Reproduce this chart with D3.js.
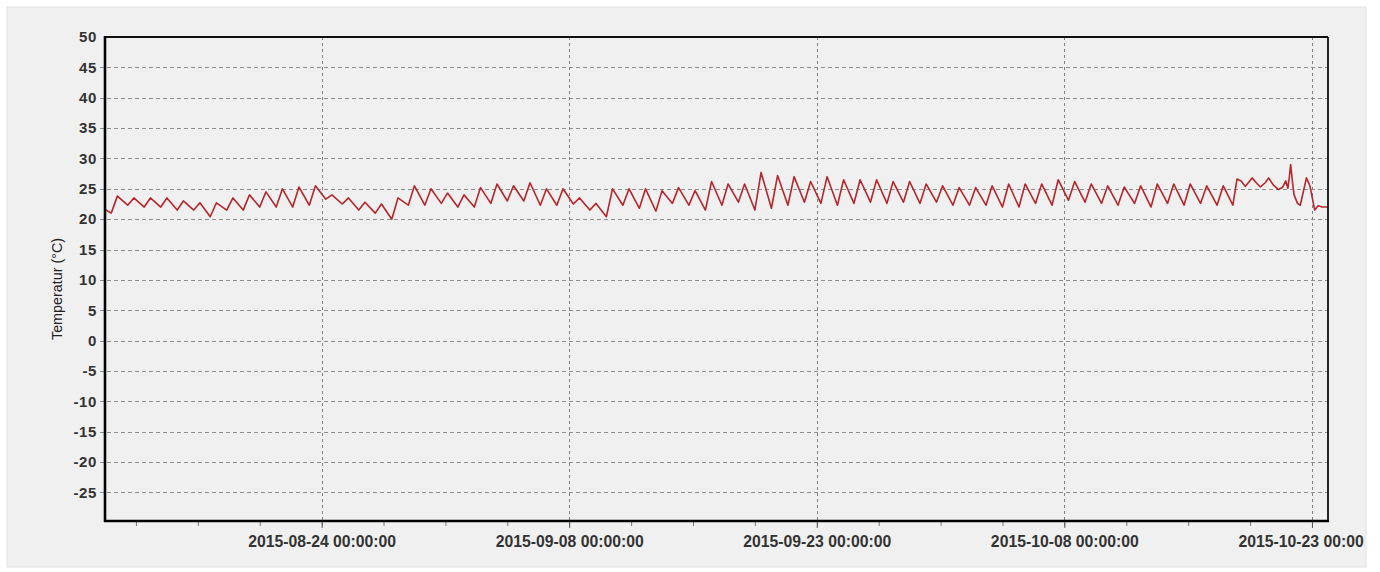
<!DOCTYPE html>
<html>
<head>
<meta charset="utf-8">
<script src="https://cdn.jsdelivr.net/npm/d3@7"></script>
<style>
body { margin: 0; background: #fff; }
svg { display: block; font-family: 'Liberation Sans', Arial, sans-serif; }
</style>
</head>
<body>
<svg></svg>
<script>
const width = 1380;
const height = 572;

// daily readings, first day 2015-08-11: morning low and afternoon high
const firstDay = '2015-08-11';
const dailyMin = [
21.0, 22.3, 22.0, 22.0, 21.5, 21.5, 20.4, 21.5, 21.5, 22.0,
22.0, 22.0, 22.3, 23.3, 22.5, 21.5, 21.0, 20.0, 22.3, 22.3, 22.6,
22.0, 22.0, 22.6, 23.0, 23.0, 22.3, 22.3, 22.5, 21.5, 20.4,
22.3, 21.8, 21.3, 22.6, 22.3, 21.5, 22.3, 22.8, 21.5, 21.8,
22.3, 22.8, 22.6, 22.3, 22.6, 22.8, 22.6, 22.8, 22.6, 22.8,
22.3, 22.3, 22.3, 22.0, 22.0, 22.6, 22.3, 23.1, 22.8, 22.6,
22.3, 22.6, 22.0, 22.6, 22.3, 22.6, 22.3
];
const dailyMax = [
23.8, 23.5, 23.5, 23.5, 23.0, 22.7, 22.7, 23.5, 24.0, 24.5,
25.0, 25.3, 25.5, 24.0, 23.5, 22.8, 22.5, 23.5, 25.5, 25.0, 24.3,
24.0, 25.2, 25.8, 25.5, 26.0, 25.0, 25.0, 23.5, 22.6, 25.0,
25.0, 25.0, 24.7, 25.2, 24.7, 26.2, 25.8, 25.8, 27.7, 27.2,
27.0, 26.2, 27.0, 26.5, 26.5, 26.5, 26.2, 26.2, 25.8, 25.5,
25.2, 25.2, 25.5, 25.8, 25.8, 25.8, 26.5, 26.2, 25.8, 25.5,
25.3, 25.5, 25.8, 25.8, 25.8, 25.5, 25.5
];
const headTimes = ['2015-08-10 21:00'];
const headTemps = [21.6];
const tailTimes = [
'2015-10-18 05:00', '2015-10-18 11:00', '2015-10-18 17:00', '2015-10-18 23:00',
'2015-10-19 09:00', '2015-10-19 15:00', '2015-10-19 21:00', '2015-10-20 04:00',
'2015-10-20 09:00', '2015-10-20 16:00', '2015-10-20 23:00', '2015-10-21 05:00',
'2015-10-21 10:00', '2015-10-21 13:00', '2015-10-21 15:00', '2015-10-21 17:00',
'2015-10-21 20:00', '2015-10-21 22:00', '2015-10-22 03:00', '2015-10-22 07:00',
'2015-10-22 16:00', '2015-10-22 21:00', '2015-10-23 00:00', '2015-10-23 04:00',
'2015-10-23 09:00', '2015-10-23 15:00', '2015-10-23 23:00'
];
const tailTemps = [
22.3, 26.6, 26.3, 25.4, 26.8, 26.0, 25.3, 26.0, 26.8, 25.6, 24.9, 25.2,
26.3, 25.1, 26.8, 29.0, 25.8, 24.0, 22.6, 22.3, 26.8, 25.5, 23.8, 21.5,
22.2, 22.0, 22.0
];

const xStart = '2015-08-10 21:00';
const xEnd = '2015-10-23 23:20';
const majorTicks = ['2015-08-24 00:00', '2015-09-08 00:00', '2015-09-23 00:00', '2015-10-08 00:00', '2015-10-23 00:00'];
const yTicks = [-25, -20, -15, -10, -5, 0, 5, 10, 15, 20, 25, 30, 35, 40, 45, 50];
const yTitle = 'Temperatur (°C)';

const parse = d3.utcParse('%Y-%m-%d %H:%M');
const fmt = d3.utcFormat('%Y-%m-%d %H:%M:%S');

const plot = {left: 105, right: 1328, top: 37, bottom: 521};

const svg = d3.select('svg').attr('width', width).attr('height', height);

const x = d3.scaleUtc()
    .domain([parse(xStart), parse(xEnd)])
    .range([plot.left, plot.right]);
const y = d3.scaleLinear()
    .domain([-29.7, 50])
    .range([plot.bottom, plot.top]);

const points = buildPoints();

drawPanel();
drawGrid();
drawAxes();
drawLine();
drawFrame();

function buildPoints() {
    const pts = headTimes.map((t, i) => ({t: parse(t), v: headTemps[i]}));
    const day0 = parse(firstDay + ' 00:00');
    dailyMin.forEach((lo, i) => {
        const d = d3.utcDay.offset(day0, i);
        pts.push({t: d3.utcHour.offset(d, 6), v: lo});
        pts.push({t: d3.utcHour.offset(d, 15), v: dailyMax[i]});
    });
    tailTimes.forEach((t, i) => pts.push({t: parse(t), v: tailTemps[i]}));
    return pts;
}

function drawPanel() {
    svg.append('rect')
        .attr('x', 7).attr('y', 7)
        .attr('width', 1359).attr('height', 560)
        .attr('fill', '#f0f0f0')
        .attr('stroke', '#e2e2e2');

    svg.append('clipPath').attr('id', 'plotclip')
        .append('rect')
        .attr('x', plot.left).attr('y', plot.top)
        .attr('width', plot.right - plot.left).attr('height', plot.bottom - plot.top);

    svg.append('clipPath').attr('id', 'panelclip')
        .append('rect')
        .attr('x', 7).attr('y', 7).attr('width', 1358).attr('height', 560);
}

function drawGrid() {
    const grid = svg.append('g').attr('class', 'grid');
    grid.selectAll('.hgrid')
        .data(yTicks.filter(v => v < 50))
        .enter().append('line')
        .attr('class', 'hgrid')
        .attr('x1', plot.left - 5).attr('x2', plot.right)
        .attr('y1', d => Math.round(y(d)) + 0.5)
        .attr('y2', d => Math.round(y(d)) + 0.5)
        .style('stroke', '#8f8f8f')
        .style('stroke-dasharray', '4,3');

    grid.selectAll('.vgrid')
        .data(majorTicks)
        .enter().append('line')
        .attr('class', 'vgrid')
        .attr('x1', d => Math.round(x(parse(d))) + 0.5)
        .attr('x2', d => Math.round(x(parse(d))) + 0.5)
        .attr('y1', plot.top).attr('y2', plot.bottom + 7)
        .style('stroke', '#808080')
        .style('stroke-dasharray', '3,3');
}

function drawAxes() {
    const yAxis = d3.axisLeft(y)
        .tickValues(yTicks)
        .tickSize(0)
        .tickPadding(8)
        .tickFormat(d => String(d));
    const gy = svg.append('g')
        .attr('transform', `translate(${plot.left},0)`)
        .call(yAxis);
    gy.select('.domain').remove();
    gy.selectAll('text')
        .style('font-size', '15px')
        .style('font-weight', 'bold')
        .style('letter-spacing', '0.6px')
        .attr('fill', '#333');

    // minor ticks every 90 hours around the major ones
    const minor = [];
    const m0 = parse(majorTicks[0]);
    for (let k = -3; k <= 16; k++) {
        const t = d3.utcHour.offset(m0, k * 90);
        if (t >= x.domain()[0] && t <= x.domain()[1] && k % 4 !== 0) minor.push(t);
    }
    const gm = svg.append('g')
        .attr('transform', `translate(0,${plot.bottom})`)
        .call(d3.axisBottom(x).tickValues(minor).tickSize(5).tickFormat(''));
    gm.select('.domain').remove();
    gm.selectAll('line').attr('stroke', '#777');

    const xAxis = d3.axisBottom(x)
        .tickValues(majorTicks.map(parse))
        .tickSize(7)
        .tickPadding(8)
        .tickFormat(fmt);
    const gx = svg.append('g')
        .attr('clip-path', 'url(#panelclip)')
        .append('g')
        .attr('transform', `translate(0,${plot.bottom})`)
        .call(xAxis);
    gx.select('.domain').remove();
    gx.selectAll('line').attr('stroke', '#555');
    gx.selectAll('text')
        .style('font-size', '16px')
        .style('font-weight', 'bold')
        .attr('fill', '#333')
        .attr('textLength', 148)
        .attr('lengthAdjust', 'spacingAndGlyphs');

    svg.append('text')
        .attr('transform', `translate(57,${(plot.top + plot.bottom) / 2 + 10}) rotate(-90)`)
        .attr('text-anchor', 'middle')
        .attr('dy', '0.35em')
        .style('font-size', '14px')
        .attr('fill', '#222')
        .attr('textLength', 102)
        .attr('lengthAdjust', 'spacingAndGlyphs')
        .text(yTitle);
}

function drawLine() {
    const line = d3.line()
        .x(d => x(d.t))
        .y(d => y(d.v));

    svg.append('path')
        .datum(points)
        .attr('clip-path', 'url(#plotclip)')
        .attr('d', line)
        .style('fill', 'none')
        .style('stroke', '#b8262b')
        .style('stroke-width', '1.6px')
        .style('stroke-linejoin', 'round');
}

function drawFrame() {
    const frame = svg.append('g');
    frame.append('line')
        .attr('x1', plot.left).attr('x2', plot.right)
        .attr('y1', plot.top).attr('y2', plot.top)
        .style('stroke', '#111').style('stroke-width', '1.8px');
    frame.append('line')
        .attr('x1', plot.right).attr('x2', plot.right)
        .attr('y1', plot.top).attr('y2', plot.bottom)
        .style('stroke', '#111').style('stroke-width', '1.8px');
    frame.append('line')
        .attr('x1', plot.left).attr('x2', plot.left)
        .attr('y1', plot.top - 1).attr('y2', plot.bottom + 1)
        .style('stroke', '#000').style('stroke-width', '2.6px');
    frame.append('line')
        .attr('x1', plot.left - 1).attr('x2', plot.right + 1)
        .attr('y1', plot.bottom).attr('y2', plot.bottom)
        .style('stroke', '#000').style('stroke-width', '2.6px');
}
</script>
</body>
</html>
